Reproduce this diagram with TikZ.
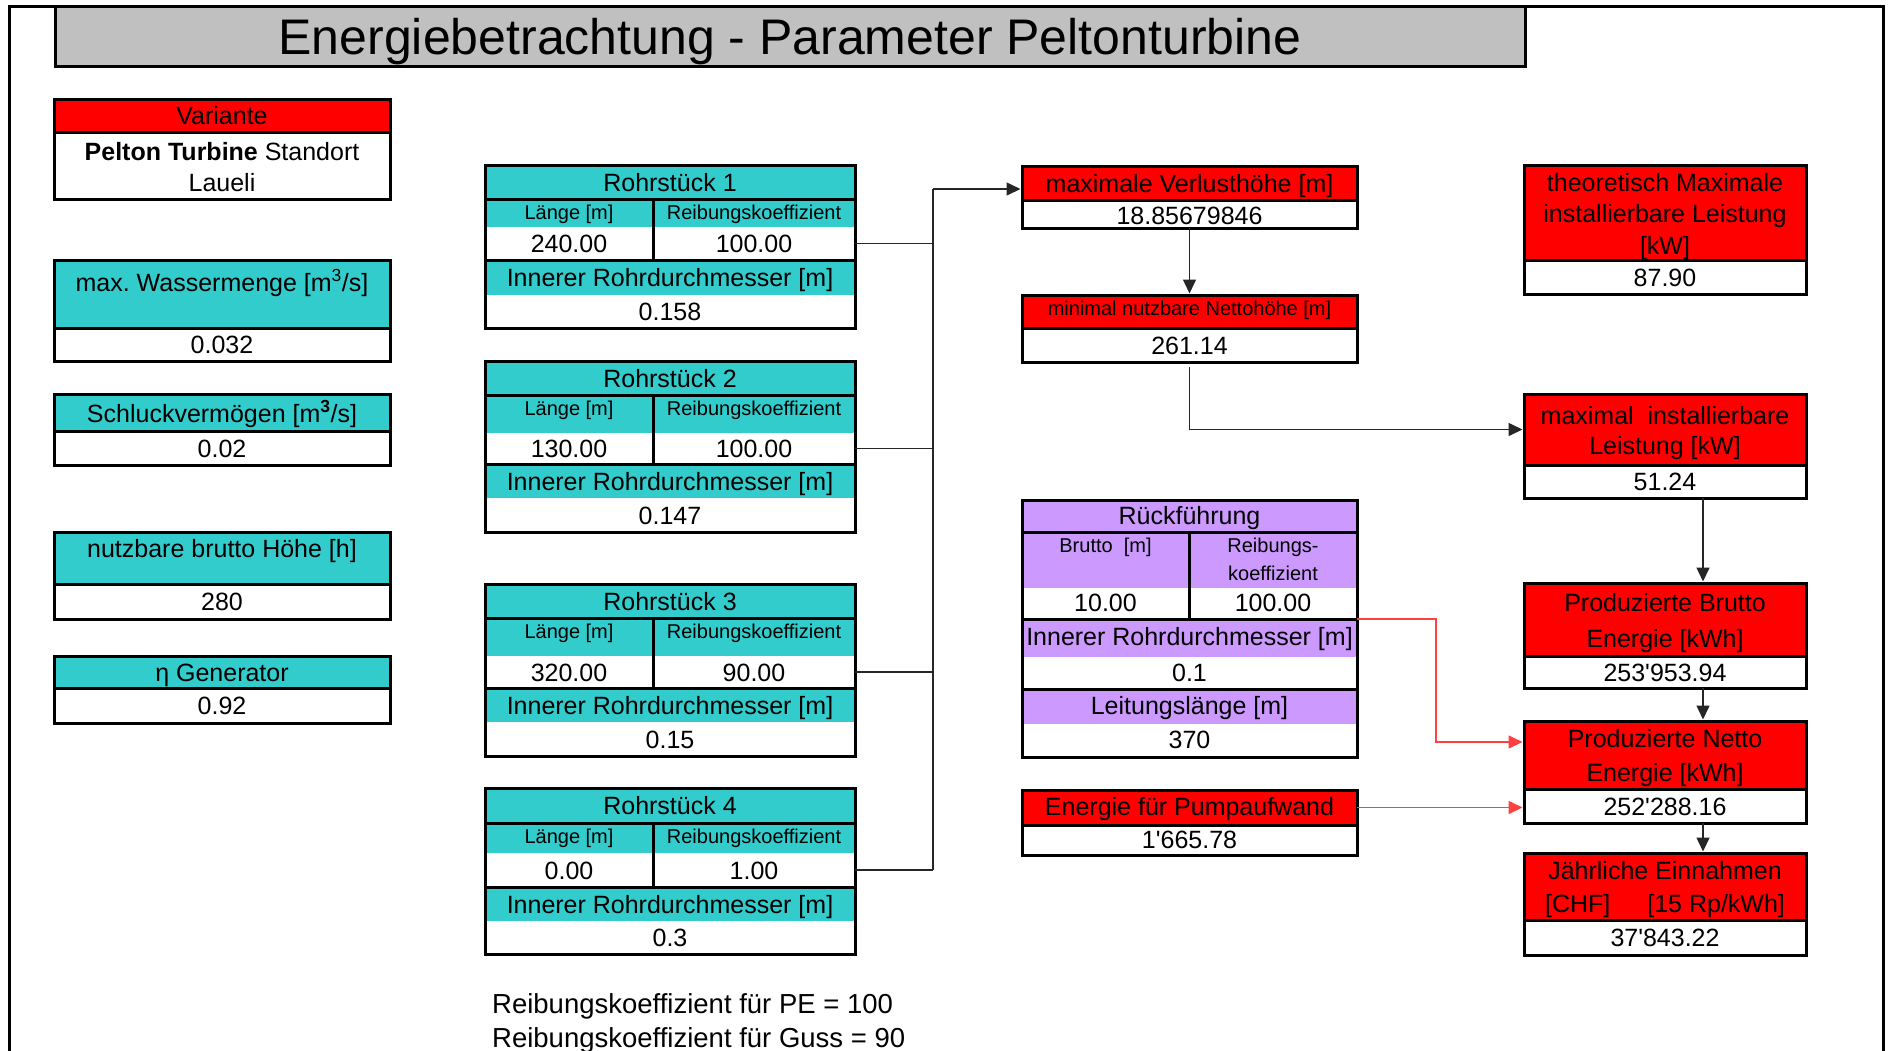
\documentclass[tikz,border=0pt]{standalone}
\usepackage{fontspec}
\setmainfont{Liberation Sans}[Ligatures=TeXOff]
\usetikzlibrary{arrows.meta}
\frenchspacing
\definecolor{teal33}{HTML}{33CCCC}
\definecolor{redF}{HTML}{FF0000}
\definecolor{lilac}{HTML}{CC99FF}
\definecolor{grayC}{HTML}{C0C0C0}
\definecolor{redline}{HTML}{FF4040}
\newcommand\apo{\char"0027\relax}
\newcommand\fsMain{\fontsize{25}{30}\selectfont}
\newcommand\fsSub{\fontsize{20}{24}\selectfont}
\newcommand\fsTitle{\fontsize{50}{60}\selectfont}
\newcommand\fsFoot{\fontsize{27.5}{33}\selectfont}
\newcommand\cellbox[6]{\node[cellbase, fill=#6, minimum width={(#4-#2)*1pt}, minimum height={(#5-#3)*1pt}] (#1) at ({(#2+#4)/2},{(#3+#5)/2}) {};}
\newcommand\twobox[7]{%
 \cellbox{#1H}{#2}{#4}{#3}{#5}{#7}
 \cellbox{#1V}{#2}{#5}{#3}{#6}{white}
 \draw[sepline] (#2,#5) -- (#3,#5);
 \draw[frameline] (#2,#4) rectangle (#3,#6);
}
\newcommand\rohrL{}
\newcommand\rohrR{}
\newcommand\rohr[9]{%
 \cellbox{#1T}{485}{#2}{855}{#3}{teal33}
 \cellbox{#1HL}{485}{#3}{653}{#4}{teal33}
 \cellbox{#1HR}{653}{#3}{855}{#4}{teal33}
 \cellbox{#1VL}{485}{#4}{653}{#5}{white}
 \cellbox{#1VR}{653}{#4}{855}{#5}{white}
 \cellbox{#1IH}{485}{#5}{855}{#6}{teal33}
 \cellbox{#1IV}{485}{#6}{855}{#7}{white}
 \node[txt] (#1t) at (670,{(#2+#3)/2}) {Rohrstück #8};
 \node[sub] (#1hl) at (569,{#3+13}) {Länge [m]};
 \node[sub] (#1hr) at (754,{#3+13}) {Reibungskoeffizient};
 \node[txt] (#1vl) at (569,{(#4+#5)/2}) {\rohrL};
 \node[txt] (#1vr) at (754,{(#4+#5)/2}) {\rohrR};
 \node[txt] (#1i) at (670,{(#5+#6)/2}) {Innerer Rohrdurchmesser [m]};
 \node[txt] (#1d) at (670,{(#6+#7)/2}) {#9};
 \draw[sepline] (485,#3) -- (855,#3);
 \draw[sepline] (485,#5) -- (855,#5);
 \draw[sepline] (653,#3) -- (653,#5);
 \draw[frameline] (485,#2) rectangle (855,#7);
}
\begin{document}
\begin{tikzpicture}[x=1pt,y=-1pt,
  cellbase/.style={inner sep=0pt,outer sep=0pt,draw=none},
  txt/.style={inner sep=0pt,text height=18pt,text depth=0pt,anchor=center,font=\fsMain},
  sub/.style={txt,text height=14.4pt,font=\fsSub},
  sepline/.style={line width=3pt},
  frameline/.style={line width=3pt},
  conn/.style={line width=1.5pt,black!85},
  arr/.style={-{Triangle[length=14pt,width=13pt]},shorten >=1.5pt},
  redconn/.style={line width=1.5pt,redline},
  redarr/.style={-{Triangle[length=14pt,width=13pt]},shorten >=1.5pt},
  foot/.style={inner sep=0pt,anchor=base west,font=\fsFoot}]
\useasboundingbox (0,0) rectangle (1889,1050);
\fill[white] (0,0) rectangle (1889,1050);
% outer frame
\draw[frameline] (9.5,1060) -- (9.5,6) -- (1883,6) -- (1883,1060);
% title
\node[cellbase, fill=grayC, draw=black, line width=3pt, minimum width=1470pt, minimum height=60pt] (title) at (790,36) {};
\node[txt, text height=36pt, font=\fsTitle] (titletext) at (790,36) {Energiebetrachtung - Parameter Peltonturbine};

% left column
\twobox{var}{54}{390}{99}{132}{199}{redF}
\node[txt] (varh) at (222,115) {Variante};
\node[txt] (varv1) at (222,151) {\textbf{Pelton Turbine} Standort};
\node[txt] (varv2) at (222,182) {Laueli};

\twobox{wm}{54}{390}{260}{328}{361}{teal33}
\node[txt] (wmh) at (222,282) {max. Wassermenge [m\textsuperscript{3}/s]};
\node[txt] (wmv) at (222,344.5) {0.032};

\twobox{sv}{54}{390}{394}{431}{465}{teal33}
\node[txt] (svh) at (222,413) {Schluckvermögen [m\textsuperscript{\textbf{3}}/s]};
\node[txt] (svv) at (222,448) {0.02};

\twobox{bh}{54}{390}{532}{584}{619}{teal33}
\node[txt] (bhh) at (222,548) {nutzbare brutto Höhe [h]};
\node[txt] (bhv) at (222,601.5) {280};

\twobox{eg}{54}{390}{656}{688}{723}{teal33}
\node[txt] (egh) at (222,672) {η Generator};
\node[txt] (egv) at (222,705.5) {0.92};

% pipes
\renewcommand\rohrL{240.00}\renewcommand\rohrR{100.00}
\rohr{ra}{165}{199}{227}{260}{295}{328}{1}{0.158}
\renewcommand\rohrL{130.00}\renewcommand\rohrR{100.00}
\rohr{rb}{361}{395}{433}{464}{498}{532}{2}{0.147}
\renewcommand\rohrL{320.00}\renewcommand\rohrR{90.00}
\rohr{rc}{584}{618}{656}{688}{722}{756}{3}{0.15}
\renewcommand\rohrL{0.00}\renewcommand\rohrR{1.00}
\rohr{rd}{788}{823}{853}{887}{921}{954}{4}{0.3}

% footer
\node[foot] (foot1) at (492,1013) {Reibungskoeffizient für PE = 100};
\node[foot] (foot2) at (492,1047) {Reibungskoeffizient für Guss = 90};

% middle column
\twobox{verl}{1022}{1357}{166}{200}{228}{redF}
\node[txt] (verlh) at (1189.5,183) {maximale Verlusthöhe [m]};
\node[txt] (verlv) at (1189.5,215) {18.85679846};

\twobox{nh}{1022}{1357}{295}{328}{362}{redF}
\node[sub] (nhh) at (1189.5,308) {minimal nutzbare Nettohöhe [m]};
\node[txt] (nhv) at (1189.5,345) {261.14};

% Rueckfuehrung
\cellbox{rfT}{1022}{500}{1357}{532}{lilac}
\cellbox{rfHL}{1022}{532}{1189}{588}{lilac}
\cellbox{rfHR}{1189}{532}{1357}{588}{lilac}
\cellbox{rfVL}{1022}{588}{1189}{619}{white}
\cellbox{rfVR}{1189}{588}{1357}{619}{white}
\cellbox{rfIH}{1022}{619}{1357}{657}{lilac}
\cellbox{rfIV}{1022}{657}{1357}{689}{white}
\cellbox{rfLH}{1022}{689}{1357}{724}{lilac}
\cellbox{rfLV}{1022}{724}{1357}{757}{white}
\node[txt] (rft) at (1189.5,515) {Rückführung};
\node[sub] (rfhl) at (1105.5,545) {Brutto\ \ [m]};
\node[sub] (rfhr1) at (1273,545) {Reibungs-};
\node[sub] (rfhr2) at (1273,573) {koeffizient};
\node[txt] (rfvl) at (1105.5,602) {10.00};
\node[txt] (rfvr) at (1273,602) {100.00};
\node[txt] (rfih) at (1189.5,636) {Innerer Rohrdurchmesser [m]};
\node[txt] (rfiv) at (1189.5,672) {0.1};
\node[txt] (rflh) at (1189.5,705) {Leitungslänge [m]};
\node[txt] (rflv) at (1189.5,739) {370};
\draw[sepline] (1022,532) -- (1357,532);
\draw[sepline] (1022,619) -- (1357,619);
\draw[sepline] (1022,689) -- (1357,689);
\draw[sepline] (1189,532) -- (1189,619);
\draw[frameline] (1022,500) rectangle (1357,757);

\twobox{pu}{1022}{1357}{790}{825}{855}{redF}
\node[txt] (puh) at (1189.5,806) {Energie für Pumpaufwand};
\node[txt] (puv) at (1189.5,839) {1\apo 665.78};

% right column
\twobox{th}{1524}{1806}{165}{260}{294}{redF}
\node[txt] (th1) at (1665,182) {theoretisch Maximale};
\node[txt] (th2) at (1665,213) {installierbare Leistung};
\node[txt] (th3) at (1665,245) {[kW]};
\node[txt] (thv) at (1665,277) {87.90};

\twobox{max}{1524}{1806}{394}{465}{498}{redF}
\node[txt] (max1) at (1665,415) {maximal\ \ installierbare};
\node[txt] (max2) at (1665,445) {Leistung [kW]};
\node[txt] (maxv) at (1665,481) {51.24};

\twobox{br}{1524}{1806}{583}{656}{688}{redF}
\node[txt] (br1) at (1665,602) {Produzierte Brutto};
\node[txt] (br2) at (1665,638) {Energie [kWh]};
\node[txt] (brv) at (1665,672) {253\apo 953.94};

\twobox{ne}{1524}{1806}{721}{789}{823}{redF}
\node[txt] (ne1) at (1665,738) {Produzierte Netto};
\node[txt] (ne2) at (1665,772) {Energie [kWh]};
\node[txt] (nev) at (1665,806) {252\apo 288.16};

\twobox{ja}{1524}{1806}{853}{920}{955}{redF}
\node[txt] (ja1) at (1665,870) {Jährliche Einnahmen};
\node[txt] (ja2) at (1665,903) {[CHF]\hspace{37pt}[15 Rp/kWh]};
\node[txt] (jav) at (1665,937.5) {37\apo 843.22};

% connectors: pipes to bus
\coordinate (busTop) at (933,189);
\draw[conn] (raVR.east) -- (raVR.east -| busTop);
\draw[conn] (rbVR.east) -- (rbVR.east -| busTop);
\draw[conn] (rcVR.east) -- (rcVR.east -| busTop);
\draw[conn] (rdVR.east) -- (rdVR.east -| busTop);
\draw[conn] (busTop) -- (rdVR.east -| busTop);
\draw[conn,arr] (busTop) -- (verlH.west |- busTop);
% height chain
\draw[conn,arr] (verlV.south) -- (nhH.north);
\draw[conn,arr] ([yshift=-5pt]nhV.south) |- (maxH.west);
\draw[conn,arr] ([xshift=38pt]maxV.south) -- ([xshift=38pt]brH.north);
\draw[conn,arr] ([xshift=38pt]brV.south) -- ([xshift=38pt]neH.north);
\draw[conn,arr] ([xshift=38pt]neV.south) -- ([xshift=38pt]jaH.north);
% red connectors
\draw[redconn,redarr] (rfVR.south east) -- ++(79,0) |- ([yshift=13pt]neH.west);
\draw[redconn,redarr] (puH.east) -- (puH.east -| neV.west);
\end{tikzpicture}
\end{document}
